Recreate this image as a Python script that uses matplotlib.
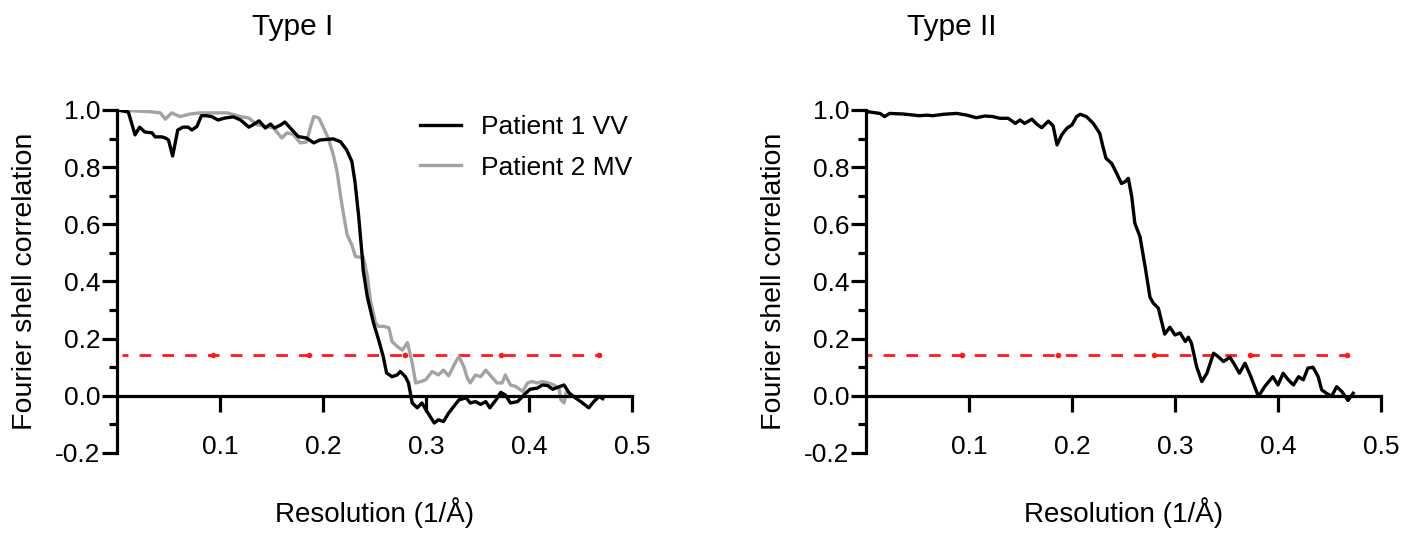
import matplotlib
matplotlib.use("Agg")
import matplotlib.pyplot as plt
from matplotlib.ticker import FuncFormatter, FixedLocator

plt.rcParams['font.family'] = ['Liberation Sans', 'DejaVu Sans']
plt.rcParams['lines.scale_dashes'] = False

# ---- data ----
p1_x = [0, 0.011, 0.0175, 0.022, 0.027, 0.034, 0.037, 0.0435, 0.047, 0.050, 0.054, 0.059, 0.064, 0.069,
        0.0727, 0.0775, 0.082, 0.087, 0.092, 0.098, 0.105, 0.113, 0.12, 0.128, 0.132, 0.138, 0.144, 0.149,
        0.153, 0.159, 0.163, 0.17, 0.176, 0.184, 0.191, 0.197, 0.21, 0.217, 0.223, 0.228, 0.231, 0.2345,
        0.238, 0.239, 0.243, 0.249, 0.254, 0.2585, 0.2617, 0.267, 0.272, 0.275, 0.28, 0.283, 0.2866, 0.2915,
        0.296, 0.301, 0.308, 0.312, 0.317, 0.322, 0.332, 0.339, 0.343, 0.348, 0.353, 0.358, 0.362, 0.368,
        0.3726, 0.377, 0.382, 0.389, 0.395, 0.401, 0.408, 0.413, 0.418, 0.423, 0.428, 0.434, 0.439, 0.445,
        0.452, 0.458, 0.463, 0.468, 0.4715]
p1_y = [1.0, 0.993, 0.913, 0.94, 0.923, 0.92, 0.906, 0.906, 0.902, 0.895, 0.839, 0.93, 0.94, 0.94,
        0.93, 0.942, 0.98, 0.98, 0.977, 0.965, 0.972, 0.976, 0.965, 0.94, 0.948, 0.962, 0.937, 0.951,
        0.937, 0.948, 0.958, 0.93, 0.907, 0.902, 0.885, 0.895, 0.899, 0.889, 0.86, 0.82, 0.75, 0.633,
        0.49, 0.44, 0.347, 0.255, 0.196, 0.137, 0.08, 0.067, 0.073, 0.085, 0.067, 0.045, -0.025, -0.042,
        -0.025, -0.055, -0.095, -0.084, -0.09, -0.06, -0.014, -0.007, -0.025, -0.02, -0.03, -0.02, -0.042, -0.014,
        0.012, 0.003, -0.025, -0.02, 0.003, 0.023, 0.027, 0.038, 0.036, 0.023, 0.03, 0.038, 0.01, -0.007,
        -0.025, -0.042, -0.02, -0.002, -0.01]

p2_x = [0, 0.016, 0.032, 0.042, 0.047, 0.053, 0.061, 0.071, 0.081, 0.0935, 0.107, 0.12, 0.128, 0.136,
        0.146, 0.152, 0.16, 0.165, 0.171, 0.178, 0.184, 0.188, 0.191, 0.196, 0.2, 0.205, 0.21, 0.2137,
        0.217, 0.22, 0.2235, 0.228, 0.2315, 0.236, 0.239, 0.243, 0.246, 0.251, 0.254, 0.259, 0.264, 0.267,
        0.272, 0.277, 0.282, 0.2866, 0.29, 0.295, 0.2996, 0.306, 0.312, 0.317, 0.322, 0.329, 0.332, 0.337,
        0.34, 0.343, 0.348, 0.353, 0.358, 0.3645, 0.369, 0.374, 0.377, 0.382, 0.387, 0.394, 0.3985, 0.403,
        0.408, 0.413, 0.419, 0.424, 0.429, 0.431, 0.434, 0.436]
p2_y = [1.0, 0.997, 0.994, 0.99, 0.968, 0.99, 0.977, 0.986, 0.99, 0.99, 0.99, 0.977, 0.972, 0.948,
        0.942, 0.937, 0.902, 0.92, 0.915, 0.885, 0.888, 0.942, 0.977, 0.972, 0.942, 0.902, 0.843, 0.784,
        0.7, 0.633, 0.563, 0.528, 0.487, 0.485, 0.487, 0.42, 0.335, 0.255, 0.243, 0.243, 0.238, 0.19,
        0.173, 0.16, 0.186, 0.115, 0.045, 0.05, 0.056, 0.085, 0.073, 0.09, 0.07, 0.12, 0.137, 0.1,
        0.063, 0.045, 0.073, 0.067, 0.09, 0.063, 0.045, 0.045, 0.073, 0.038, 0.033, 0.015, 0.045, 0.05,
        0.045, 0.05, 0.045, 0.038, 0.027, -0.014, -0.025, 0.01]

t2_x = [0, 0.0055, 0.0136, 0.018, 0.023, 0.036, 0.052, 0.059, 0.065, 0.075, 0.088, 0.098, 0.107, 0.1155,
        0.123, 0.13, 0.138, 0.145, 0.1495, 0.154, 0.161, 0.166, 0.1706, 0.177, 0.1816, 0.1855, 0.19, 0.195,
        0.2, 0.2045, 0.208, 0.214, 0.2207, 0.227, 0.230, 0.233, 0.2385, 0.2434, 0.248, 0.2515, 0.2547, 0.258,
        0.261, 0.266, 0.271, 0.2757, 0.279, 0.2838, 0.290, 0.295, 0.300, 0.305, 0.31, 0.313, 0.316, 0.321,
        0.326, 0.331, 0.3374, 0.342, 0.347, 0.3534, 0.358, 0.3625, 0.368, 0.373, 0.381, 0.387, 0.395, 0.4,
        0.405, 0.41, 0.415, 0.42, 0.4246, 0.429, 0.434, 0.439, 0.4424, 0.447, 0.452, 0.457, 0.462, 0.468, 0.473]
t2_y = [0.995, 0.992, 0.988, 0.977, 0.988, 0.986, 0.98, 0.982, 0.98, 0.985, 0.988, 0.982, 0.973, 0.979,
        0.977, 0.971, 0.971, 0.953, 0.965, 0.953, 0.968, 0.95, 0.938, 0.961, 0.945, 0.878, 0.913, 0.936,
        0.948, 0.977, 0.985, 0.977, 0.953, 0.918, 0.872, 0.831, 0.813, 0.778, 0.743, 0.749, 0.761, 0.697,
        0.604, 0.557, 0.452, 0.345, 0.324, 0.307, 0.216, 0.24, 0.213, 0.22, 0.19, 0.205, 0.184, 0.102,
        0.05, 0.079, 0.149, 0.137, 0.12, 0.135, 0.108, 0.079, 0.114, 0.073, -0.002, 0.032, 0.067, 0.038,
        0.079, 0.056, 0.038, 0.067, 0.056, 0.097, 0.1, 0.067, 0.021, 0.009, -0.002, 0.032, 0.015, -0.016, 0.009]

thr_x_left = [0.005, 0.093, 0.186, 0.28, 0.373, 0.468]
thr_x_right = [0.0, 0.093, 0.186, 0.28, 0.373, 0.467]
thr_y = [0.143, 0.143, 0.143, 0.143, 0.143, 0.143]

titles = ["Type I", "Type II"]
xlabel = "Resolution (1/Å)"
ylabel = "Fourier shell correlation"
xticks = [0.1, 0.2, 0.3, 0.4, 0.5]
yticks = [-0.2, 0.0, 0.2, 0.4, 0.6, 0.8, 1.0]
yminor = [-0.1, 0.1, 0.3, 0.5, 0.7, 0.9]
legend_labels = ["Patient 1 VV", "Patient 2 MV"]

BLACK = "#000000"
GREY = "#a3a3a3"
RED = "#ff1a1a"

fig = plt.figure(figsize=(14.21, 5.33), dpi=100)
W, H = 1421, 533
ax1 = fig.add_axes([117 / W, (H - 453) / H, 515 / W, 343 / H])
ax2 = fig.add_axes([866 / W, (H - 453) / H, 515 / W, 343 / H])

def style(ax):
    ax.set_xlim(0, 0.5)
    ax.set_ylim(-0.2, 1.0)
    for s in ['top', 'right']:
        ax.spines[s].set_visible(False)
    ax.spines['bottom'].set_position(('data', 0))
    for s in ['left', 'bottom']:
        ax.spines[s].set_linewidth(2.3)
    ax.xaxis.set_major_locator(FixedLocator(xticks))
    ax.yaxis.set_major_locator(FixedLocator(yticks))
    ax.yaxis.set_minor_locator(FixedLocator(yminor))
    ax.xaxis.set_major_formatter(FuncFormatter(lambda v, p: f"{v:.1f}"))
    ax.yaxis.set_major_formatter(FuncFormatter(lambda v, p: f"{v:.1f}".replace("\u2212", "-")))
    ax.tick_params(axis='x', which='major', direction='out', length=11.5, width=2.3,
                   labelsize=19, pad=17)
    ax.tick_params(axis='y', which='major', direction='out', length=10.5, width=2.3,
                   labelsize=19, pad=1.5)
    ax.tick_params(axis='y', which='minor', direction='out', length=5.5, width=2.3)
    ax.set_xlabel(xlabel, fontsize=20)
    ax.set_ylabel(ylabel, fontsize=20.5)
    ax.xaxis.set_label_coords(0.5, -0.128)
    ax.yaxis.set_label_coords(-0.153, 0.5)

def thr(ax, xs):
    ax.plot(xs, thr_y, color=RED, lw=2.0, linestyle=(4.1, (8.4, 8.0)), zorder=1)
    ax.plot(xs[1:], thr_y[1:], linestyle='none', marker='o', markersize=3.0,
            color=RED, zorder=1)

style(ax1)
thr(ax1, thr_x_left)
ax1.plot(p2_x, p2_y, color=GREY, lw=2.4, label=legend_labels[1], zorder=2, solid_joinstyle='round')
ax1.plot(p1_x, p1_y, color=BLACK, lw=2.4, label=legend_labels[0], zorder=3, solid_joinstyle='round')
h, l = ax1.get_legend_handles_labels()
ax1.legend([h[1], h[0]], [l[1], l[0]], loc='upper left', bbox_to_anchor=(0.588, 0.985),
           frameon=False, fontsize=19, handlelength=1.55, handletextpad=0.75,
           labelspacing=0.62, borderpad=0, borderaxespad=0)

style(ax2)
thr(ax2, thr_x_right)
ax2.plot(t2_x, t2_y, color=BLACK, lw=2.4, zorder=3, solid_joinstyle='round')

fig.text(293 / W, 1 - 35 / H, titles[0], ha='center', va='baseline', fontsize=21.5)
fig.text(952 / W, 1 - 35 / H, titles[1], ha='center', va='baseline', fontsize=21.5)

fig.savefig("out.png", dpi=100)
